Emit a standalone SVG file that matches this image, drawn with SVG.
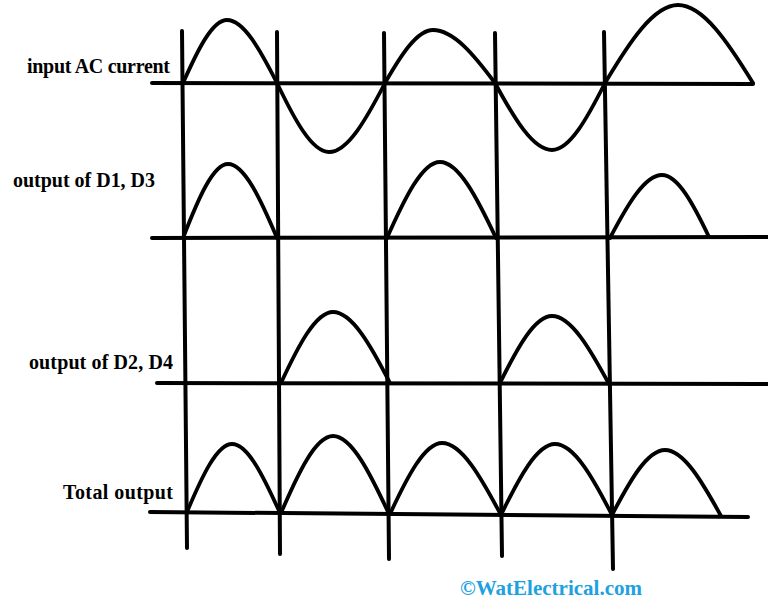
<svg xmlns="http://www.w3.org/2000/svg" width="768" height="610" viewBox="0 0 768 610">
<style>
.ax{stroke:#000;stroke-width:4;stroke-linecap:round;fill:none}
.wv{stroke:#000;stroke-width:3.8;stroke-linecap:round;stroke-linejoin:round;fill:none}
.lb{font-family:"Liberation Serif","DejaVu Serif",serif;font-weight:bold;font-size:20px;fill:#000}
.wm{font-family:"Liberation Serif","DejaVu Serif",serif;font-weight:bold;font-size:21px;fill:#1da1e0}
</style>
<rect width="768" height="610" fill="#fff"/>
<g id="axes">
<line class="ax" x1="182" y1="31" x2="187" y2="548"/>
<line class="ax" x1="277" y1="32" x2="280" y2="554"/>
<line class="ax" x1="384" y1="33" x2="389" y2="559"/>
<line class="ax" x1="495" y1="33" x2="502" y2="556"/>
<line class="ax" x1="604" y1="32" x2="613" y2="569"/>
<line class="ax" x1="152" y1="83" x2="753" y2="84"/>
<line class="ax" x1="152" y1="238" x2="768" y2="237"/>
<line class="ax" x1="157" y1="383" x2="768" y2="384"/>
<line class="ax" x1="150" y1="512" x2="748" y2="517"/>
</g>
<g id="input-wave">
<path class="wv" d="M183,83 C197.7,50 212.3,20 227,20 C243.7,20 260.3,50 277,83 C294.3,119.1 311.7,152 329,152 C347.7,152 366.3,119.1 385,83 C401,55.2 417,30 433,30 C453.7,30 474.3,55.2 495,83 C514,118.1 533,150 552,150 C569.7,150 587.3,118.1 605,83 C629.3,42.2 653.7,5 678,5 C703,5 728,42.2 753,83"/>
</g>
<g id="d1d3-wave">
<path class="wv" d="M183,238 C198,199.3 213,164 228,164 C244.3,164 260.7,199.3 277,238"/>
<path class="wv" d="M387,238 C404.7,198.2 422.3,162 440,162 C458.7,162 477.3,198.2 496,238"/>
<path class="wv" d="M610,238 C627.3,205 644.7,175 662,175 C677.7,175 693.3,204 709,237"/>
</g>
<g id="d2d4-wave">
<path class="wv" d="M281,383 C298.3,345.8 315.7,312 333,312 C352,312 371,345.8 390,383"/>
<path class="wv" d="M500,383 C517.3,347.9 534.7,316 552,316 C571,316 590,348.9 609,384"/>
</g>
<g id="total-wave">
<path class="wv" d="M187,512 C202,476.4 217,444 232,444 C248,444 264,477.4 280,513"/>
<path class="wv" d="M281,513 C298.3,472.7 315.7,436 333,436 C351.7,436 370.3,473.7 389,514"/>
<path class="wv" d="M390,514 C407.3,476.8 424.7,443 442,443 C461.7,443 481.3,477.8 501,515"/>
<path class="wv" d="M501,515 C519,477.8 537,444 555,444 C574,444 593,477.8 612,515"/>
<path class="wv" d="M612,515 C629.7,481 647.3,450 665,450 C683.7,450 702.3,482 721,516"/>
</g>
<g id="labels">
<text class="lb" x="27" y="73" textLength="143">input AC current</text>
<text class="lb" x="13" y="187" textLength="142">output of D1, D3</text>
<text class="lb" x="29" y="369" textLength="144">output of D2, D4</text>
<text class="lb" x="63" y="499" textLength="110">Total output</text>
<text class="wm" x="460" y="595" textLength="182">©WatElectrical.com</text>
</g>
</svg>
